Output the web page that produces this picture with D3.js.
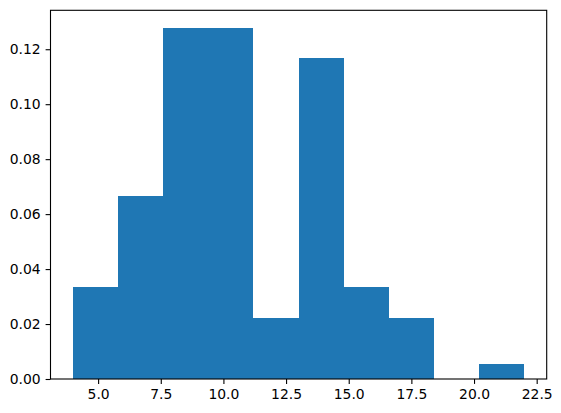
<!DOCTYPE html>
<html><head><meta charset="utf-8">
<script src="https://cdn.jsdelivr.net/npm/d3@7"></script>
<style>body{margin:0;background:#fff}svg{display:block}</style>
</head><body>
<script>
const binEdges = [4.0, 5.8, 7.6, 9.4, 11.2, 13.0, 14.8, 16.6, 18.4, 20.2, 22.0];
const densities = [0.03333, 0.06667, 0.12778, 0.12778, 0.02222, 0.11667, 0.03333, 0.02222, 0.0, 0.00556];
const xTicks = [5.0, 7.5, 10.0, 12.5, 15.0, 17.5, 20.0, 22.5];
const yTicks = [0.00, 0.02, 0.04, 0.06, 0.08, 0.10, 0.12];

const W = 561, H = 413;
const m = {left: 50.5, right: 561 - 546.7, top: 10.3, bottom: 413 - 379};
const svg = d3.select("body").append("svg").attr("width", W).attr("height", H);

const xmin = 4.0, xmax = 22.0, pad = (xmax - xmin) * 0.05;
const ymax = d3.max(densities) * 1.05;
const x = d3.scaleLinear().domain([xmin - pad, xmax + pad]).range([m.left, W - m.right]);
const y = d3.scaleLinear().domain([0, ymax]).range([H - m.bottom, m.top]);

const bars = densities.map((d, i) => ({x0: binEdges[i], x1: binEdges[i + 1], v: d}));
svg.append("g").attr("shape-rendering", "crispEdges").selectAll("rect").data(bars.filter(b => b.v > 0)).join("rect")
  .attr("x", d => x(d.x0)).attr("width", d => x(d.x1) - x(d.x0))
  .attr("y", d => y(d.v)).attr("height", d => y(0) - y(d.v))
  .attr("fill", "#1f77b4");

const font = "DejaVu Sans, sans-serif";
const xa = svg.append("g").attr("transform", `translate(0,${H - m.bottom})`)
  .call(d3.axisBottom(x).tickValues(xTicks).tickFormat(d3.format(".1f")).tickSize(4.9).tickPadding(4.9));
const ya = svg.append("g").attr("transform", `translate(${m.left},0)`)
  .call(d3.axisLeft(y).tickValues(yTicks).tickFormat(d3.format(".2f")).tickSize(4.9).tickPadding(4.9));
[xa, ya].forEach(a => {
  a.select(".domain").remove();
  a.selectAll("line").attr("stroke", "#000").attr("stroke-width", 1.1);
  a.selectAll("text").attr("font-family", font).attr("font-size", 13.9).attr("fill", "#000");
});

svg.append("rect").attr("x", m.left).attr("y", m.top)
  .attr("width", W - m.right - m.left).attr("height", H - m.bottom - m.top)
  .attr("fill", "none").attr("stroke", "#000").attr("stroke-width", 1.1);
</script>
</body></html>
